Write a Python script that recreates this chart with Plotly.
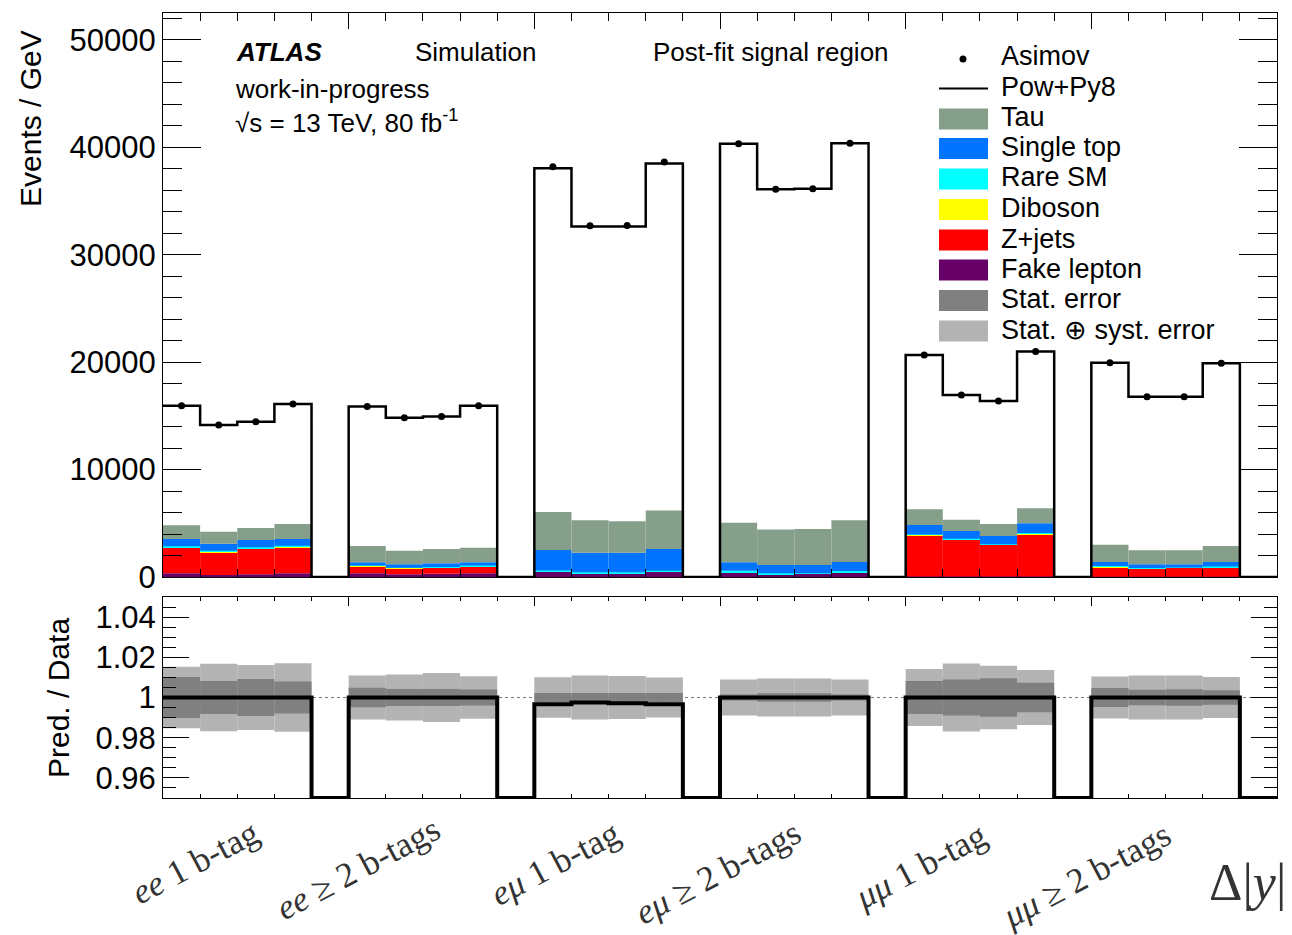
import numpy as np
import plotly.graph_objects as go

# ---------------- data ----------------
region_labels = ["<i>ee</i> 1 b-tag", "<i>ee</i> ≥ 2 b-tags",
                 "<i>eμ</i> 1 b-tag", "<i>eμ</i> ≥ 2 b-tags",
                 "<i>μμ</i> 1 b-tag", "<i>μμ</i> ≥ 2 b-tags"]
bins_per_region = 4  # each region is followed by one empty bin

asimov = [15950, 14150, 14460, 16100,
          15860, 14830, 14930, 15950,
          38180, 32700, 32710, 38620,
          40320, 36100, 36150, 40380,
          20670, 16950, 16390, 20980,
          19950, 16790, 16790, 19900]
pred_over_data = [1.0, 1.0, 1.0, 1.0,
                  1.0, 1.0, 1.0, 1.0,
                  0.9967, 0.9975, 0.9972, 0.9967,
                  1.0, 1.0, 1.0, 1.0,
                  1.0, 1.0, 1.0, 1.0,
                  1.0, 1.0, 1.0, 1.0]

fake_lepton = [340, 190, 250, 340, 340, 250, 310, 340, 530, 310, 310, 500,
               420, 250, 280, 400, 50, 40, 40, 50, 30, 30, 30, 30]
zjets = [2390, 2110, 2390, 2420, 680, 530, 560, 620, 0, 0, 0, 0,
         0, 0, 0, 0, 3800, 3410, 2940, 3930, 900, 750, 810, 870]
diboson = [30, 60, 50, 40, 20, 60, 20, 30, 10, 10, 10, 10,
           30, 10, 10, 30, 70, 70, 40, 80, 20, 20, 20, 20]
rare_sm = [100, 90, 80, 110, 40, 30, 40, 80, 60, 120, 120, 70,
           140, 80, 50, 130, 30, 30, 30, 40, 70, 40, 30, 50]
single_top = [680, 650, 680, 630, 290, 310, 340, 300, 1920, 1810, 1810, 2020,
              780, 780, 780, 840, 890, 740, 770, 900, 380, 340, 290, 430]
tau = [1270, 1120, 1120, 1400, 1520, 1270, 1340, 1360, 3540, 3040, 2950, 3600,
       3690, 3290, 3350, 3880, 1460, 1050, 1120, 1400, 1610, 1300, 1300, 1490]

stat_err = [0.0102, 0.0082, 0.0092, 0.0080,
            0.0048, 0.0042, 0.0042, 0.0040,
            0.0023, 0.0023, 0.0023, 0.0023,
            0.0015, 0.0021, 0.0021, 0.0015,
            0.0082, 0.0090, 0.0096, 0.0074,
            0.0047, 0.0039, 0.0041, 0.0036]
tot_err = [0.0153, 0.0168, 0.0162, 0.0170,
           0.0109, 0.0115, 0.0122, 0.0106,
           0.0101, 0.0110, 0.0107, 0.0099,
           0.0090, 0.0095, 0.0095, 0.0090,
           0.0142, 0.0169, 0.0158, 0.0137,
           0.0104, 0.0110, 0.0110, 0.0102]

y_ticks_main = [0, 10000, 20000, 30000, 40000, 50000]
ratio_ticks = [0.96, 0.98, 1.0, 1.02, 1.04]
ratio_tick_text = ["0.96", "0.98", "1", "1.02", "1.04"]

# ---------------- geometry / styling ----------------
W, H = 1292, 935
L, R, T, B = 163, 15, 13, 137
PW, PH = W - L - R, H - T - B
def px(x): return (x - L) / PW
def py(y): return (H - B - y) / PH

MAIN_RANGE = [0, 52500]
RATIO_RANGE = [0.95, 1.05]
FONT = "Liberation Sans, Arial, Helvetica, sans-serif"
SERIF = "Liberation Serif, DejaVu Serif, serif"

components = [  # bottom -> top
    ("Fake lepton", fake_lepton, "#660066"),
    ("Z+jets", zjets, "#ff0000"),
    ("Diboson", diboson, "#ffff00"),
    ("Rare SM", rare_sm, "#00ffff"),
    ("Single top", single_top, "#0073ff"),
    ("Tau", tau, "#859f8b"),
]
STAT_COL, TOT_COL = "#808080", "#b3b3b3"

n_reg = len(region_labels)
nb = n_reg * (bins_per_region + 1)
idx = np.array([r * (bins_per_region + 1) + i for r in range(n_reg) for i in range(bins_per_region)])

def full(vals):
    a = np.zeros(nb)
    a[idx] = vals
    return a

centers = np.arange(nb) + 0.5
edges = np.arange(nb + 1)

fig = go.Figure()

# stacked backgrounds
cum = np.zeros(nb)
for name, vals, col in components:
    v = full(vals)
    fig.add_trace(go.Bar(x=centers, y=v, base=cum.copy(), width=1.0, name=name,
                         marker=dict(color=col, line=dict(width=0)), opacity=1,
                         xaxis="x", yaxis="y", hoverinfo="skip"))
    cum = cum + v

pred = full(np.array(asimov) * np.array(pred_over_data))
fig.add_trace(go.Scatter(x=edges, y=np.append(pred, pred[-1]), mode="lines", line_shape="hv",
                         line=dict(color="black", width=2.5), xaxis="x", yaxis="y", name="Pow+Py8"))
fig.add_trace(go.Scatter(x=centers[idx], y=asimov, mode="markers",
                         marker=dict(color="black", size=7), xaxis="x", yaxis="y", name="Asimov"))

# ratio panel
te = np.array(tot_err); se = np.array(stat_err)
fig.add_trace(go.Bar(x=centers[idx], y=2 * te, base=1 - te, width=1.0,
                     marker=dict(color=TOT_COL, line=dict(width=0)), opacity=1,
                     xaxis="x2", yaxis="y2", hoverinfo="skip"))
fig.add_trace(go.Bar(x=centers[idx], y=2 * se, base=1 - se, width=1.0,
                     marker=dict(color=STAT_COL, line=dict(width=0)), opacity=1,
                     xaxis="x2", yaxis="y2", hoverinfo="skip"))
fig.add_trace(go.Scatter(x=[0, nb], y=[1.0, 1.0], mode="lines",
                         line=dict(color="#777777", width=1, dash="dot"), xaxis="x2", yaxis="y2"))
ratio_full = np.maximum(full(pred_over_data), RATIO_RANGE[0])
fig.add_trace(go.Scatter(x=edges, y=np.append(ratio_full, ratio_full[-1]), mode="lines", line_shape="hv",
                         line=dict(color="black", width=4), xaxis="x2", yaxis="y2"))

axis_common = dict(showline=True, linecolor="black", linewidth=1, mirror="allticks",
                   showgrid=False, zeroline=False, ticks="inside", tickcolor="black", tickwidth=1)

fig.update_layout(
    width=W, height=H, margin=dict(l=L, r=R, t=T, b=B),
    paper_bgcolor="white", plot_bgcolor="white", barmode="overlay", showlegend=False,
    font=dict(family=FONT, color="black"),
    xaxis=dict(domain=[0, 1], anchor="y", range=[0, nb], showticklabels=False,
               tickmode="linear", tick0=0, dtick=5, ticklen=16,
               minor=dict(ticks="inside", dtick=1, tick0=0, ticklen=8, tickcolor="black"), **axis_common),
    yaxis=dict(domain=[py(577), 1], anchor="x", range=MAIN_RANGE, tickmode="array",
               tickvals=y_ticks_main, ticktext=[str(v) for v in y_ticks_main], ticklen=38,
               tickfont=dict(size=31), minor=dict(ticks="inside", dtick=2000, tick0=0, ticklen=19, tickcolor="black"),
               **axis_common),
    xaxis2=dict(domain=[0, 1], anchor="y2", range=[0, nb], matches="x", showticklabels=False,
                tickmode="linear", tick0=0, dtick=5, ticklen=9,
                minor=dict(ticks="inside", dtick=1, tick0=0, ticklen=4, tickcolor="black"), **axis_common),
    yaxis2=dict(domain=[0, py(597)], anchor="x2", range=RATIO_RANGE, tickmode="array",
                tickvals=ratio_ticks, ticktext=ratio_tick_text, ticklen=26, tickfont=dict(size=31),
                minor=dict(ticks="inside", tickmode="linear", tick0=0.95, dtick=0.005, ticklen=13, tickcolor="black"),
                **axis_common),
)

ann = []
def text(x, y, s, size=26, xanchor="left", angle=0, family=FONT, color="black"):
    ann.append(dict(x=px(x), y=py(y), xref="paper", yref="paper", text=s, showarrow=False,
                    xanchor=xanchor, yanchor="middle", textangle=angle,
                    font=dict(size=size, family=family, color=color)))

text(31, 119, "Events / GeV", size=30, xanchor="center", angle=-90)
text(58, 698, "Pred. / Data", size=30, xanchor="center", angle=-90)
text(234, 52, "<b><i>ATLAS</i></b>", size=26)
text(413, 52, "Simulation", size=26)
text(651, 52, "Post-fit signal region", size=26)
text(233, 89, "work-in-progress", size=26)
text(233, 122, "√s = 13 TeV, 80 fb<sup>-1</sup>", size=26)

label_pos = [(195, 862), (358, 868), (555, 863), (718, 872), (920, 866), (1086, 875)]
for (lx, ly), lab in zip(label_pos, region_labels):
    text(lx, ly, lab, size=35, xanchor="center", angle=-28, family=SERIF, color="#333333")
text(1247, 882, "Δ|<i>y</i>|", size=52, xanchor="center", family=SERIF, color="#333333")

# manual legend
shapes = []
box_rows = [("Tau", 119), ("Single top", 148.5), ("Rare SM", 179), ("Diboson", 209.5),
            ("Z+jets", 240), ("Fake lepton", 270), ("Stat. error", 300.5), ("Stat. ⊕ syst. error", 331)]
colmap = {n: c for n, _, c in components}
colmap["Stat. error"] = STAT_COL
colmap["Stat. ⊕ syst. error"] = TOT_COL
shapes.append(dict(type="circle", xref="paper", yref="paper", x0=px(959.5), x1=px(966.5),
                   y0=py(62.5), y1=py(55.5), fillcolor="black", line=dict(width=0)))
shapes.append(dict(type="line", xref="paper", yref="paper", x0=px(939), x1=px(988),
                   y0=py(88.5), y1=py(88.5), line=dict(color="black", width=2)))
text(999, 56, "Asimov", size=27)
text(999, 87, "Pow+Py8", size=27)
for name, yc in box_rows:
    shapes.append(dict(type="rect", xref="paper", yref="paper", x0=px(939), x1=px(988),
                       y0=py(yc + 10.5), y1=py(yc - 10.5), fillcolor=colmap[name], line=dict(width=0)))
    text(999, yc - 1.5, name, size=27)

fig.update_layout(annotations=ann, shapes=shapes)
fig.write_html("out.html")
